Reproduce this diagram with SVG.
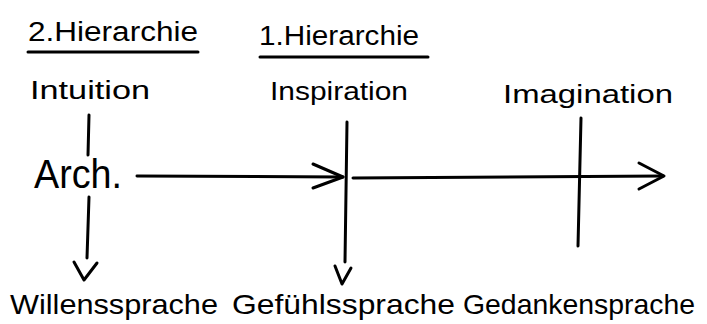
<svg xmlns="http://www.w3.org/2000/svg" width="707" height="324" viewBox="0 0 707 324">
<style>
text{font-family:"Liberation Sans","DejaVu Sans",sans-serif;fill:#000;}
.h{font-size:27px;}
.t{font-size:26px;}
.b{font-size:28px;}
.a{font-size:40px;}
.ln{stroke:#000;stroke-width:3;fill:none;stroke-linecap:round;stroke-linejoin:round;}
</style>
<rect width="707" height="324" fill="#fff"/>
<g id="h2">
<text class="h" x="28" y="41" textLength="170" lengthAdjust="spacingAndGlyphs">2.Hierarchie</text>
<line class="ln" x1="28" y1="52" x2="198" y2="52"/>
</g>
<g id="h1">
<text class="h" x="259" y="45" textLength="160" lengthAdjust="spacingAndGlyphs">1.Hierarchie</text>
<line class="ln" x1="260" y1="57" x2="428" y2="57"/>
</g>
<g id="intuition"><text class="t" x="30" y="99" textLength="120" lengthAdjust="spacingAndGlyphs">Intuition</text></g>
<g id="inspiration"><text class="t" x="270" y="100" textLength="138" lengthAdjust="spacingAndGlyphs">Inspiration</text></g>
<g id="imagination"><text class="t" x="503" y="103" textLength="170" lengthAdjust="spacingAndGlyphs">Imagination</text></g>
<g id="arch"><text class="a" x="34" y="188" textLength="88" lengthAdjust="spacingAndGlyphs">Arch.</text></g>
<g id="willen"><text class="b" x="10" y="314" textLength="208" lengthAdjust="spacingAndGlyphs">Willenssprache</text></g>
<g id="gefuehl"><text class="b" x="232" y="314" textLength="223" lengthAdjust="spacingAndGlyphs">Gefühlssprache</text></g>
<g id="gedanken"><text class="b" x="463" y="314" textLength="232" lengthAdjust="spacingAndGlyphs">Gedankensprache</text></g>
<g id="connectors">
<line class="ln" x1="89" y1="115" x2="88" y2="155"/>
<line class="ln" x1="89" y1="197" x2="87" y2="258"/>
<polyline class="ln" points="74,262 84,280 97,263"/>
<line class="ln" x1="137" y1="176" x2="343" y2="177"/>
<polyline class="ln" points="313,164 343,177 313,188"/>
<line class="ln" x1="347" y1="122" x2="345" y2="262"/>
<polyline class="ln" points="335,266 342,284 351,268"/>
<line class="ln" x1="353" y1="178" x2="663" y2="176"/>
<polyline class="ln" points="639,163 664,176 639,189"/>
<line class="ln" x1="581" y1="118" x2="578" y2="246"/>
</g>
</svg>
